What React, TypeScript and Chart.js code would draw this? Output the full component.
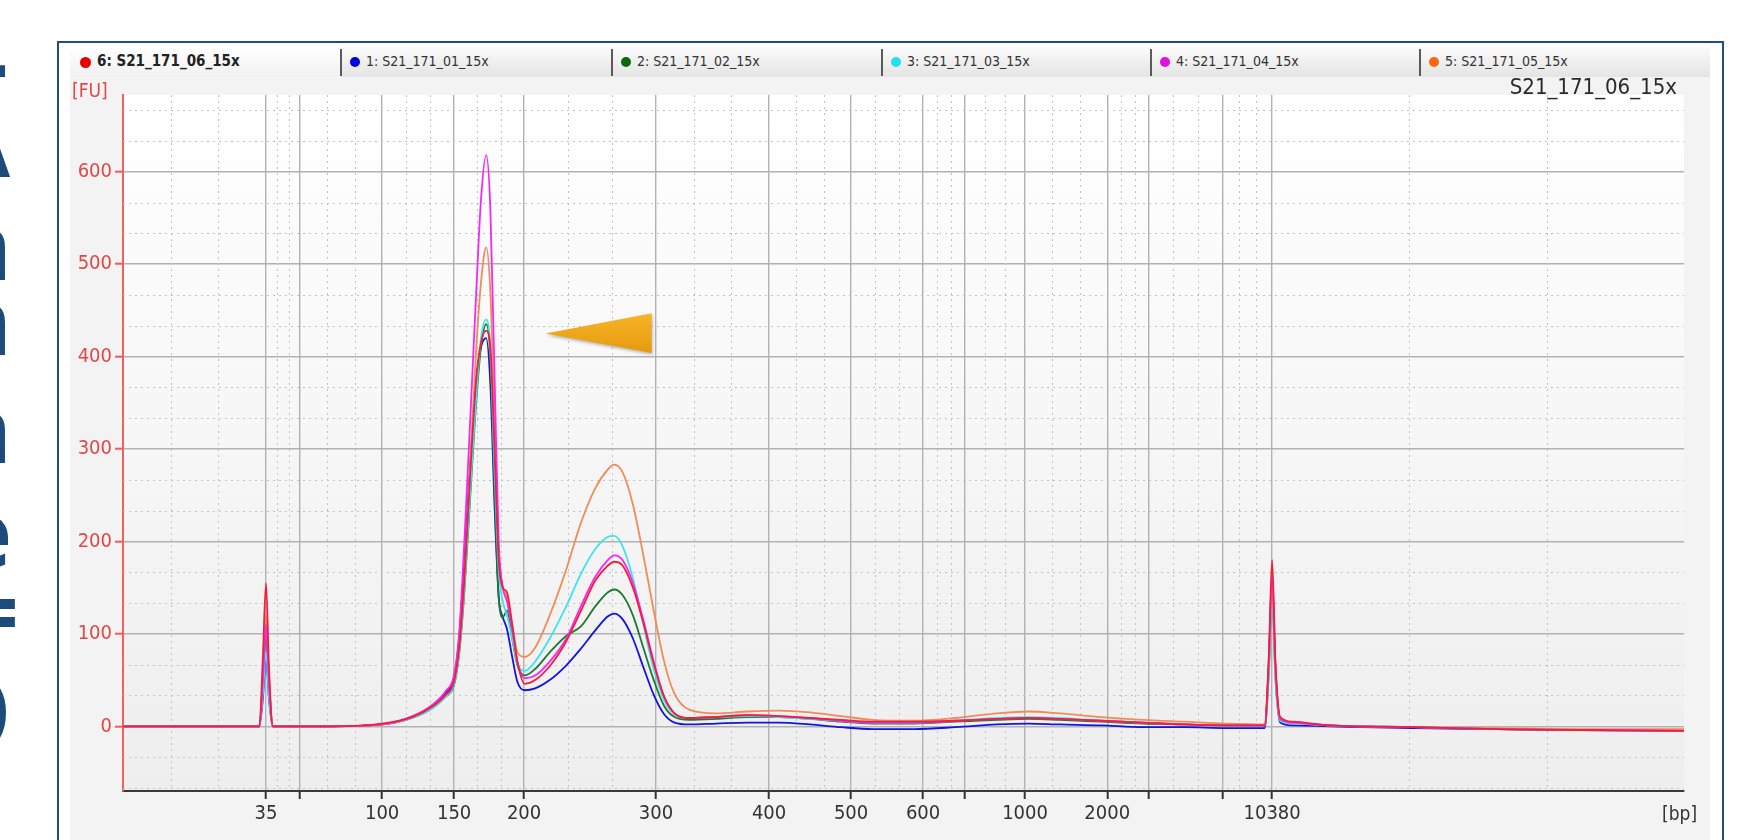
import React, { useEffect, useRef } from "react";
import { Chart, registerables } from "chart.js";

Chart.register(...registerables);

// ---- Ladder (x axis): fragment size and migration time [s] ----
const ladderBp = [35, 50, 100, 150, 200, 300, 400, 500, 600, 700, 1000, 2000, 3000, 7000, 10380];
const ladderTime = [46.87, 48.51, 52.45, 55.91, 59.27, 65.61, 71.04, 74.98, 78.44, 80.46, 83.34, 87.29, 89.26, 92.86, 95.21];
const labeledBp = [35, 100, 150, 200, 300, 400, 500, 600, 1000, 2000, 10380];
const yTickValues = [0, 100, 200, 300, 400, 500, 600];

// ---- Sample traces: time [s] and fluorescence [FU] ----
const timeS = [
  40, 45, 46.55, 46.72, 46.87, 47.02, 47.2, 50, 52.45, 53.9,
  54.9, 55.5, 55.9, 56.15, 56.4, 56.7, 56.95, 57.2, 57.45, 57.65,
  57.85, 58.05, 58.25, 58.45, 58.7, 58.95, 59.3, 59.8, 60.5, 61.3,
  62.0, 62.7, 63.3, 63.6, 64.0, 64.5, 65.0, 65.5, 66.0, 66.5,
  67.2, 68.5, 70.0, 71.5, 73.0, 74.5, 76.0, 78.0, 80.0, 82.0,
  83.5, 85.0, 87.0, 89.0, 91.0, 93.0, 94.85, 95.05, 95.21, 95.37,
  95.6, 96.2, 98, 102, 106, 110, 115,
];
const s1 = [0,0,0,30,75,28,0,0,2,10, 22,36,52,95,180,290,370,410,420,370, 240,140,118,105,75,48,39,41,50,66, 84,104,119,122,116,95,64,34,13,4, 2,3,4,4,2,-1,-3,-3,-1,2, 3,2,1,-1,-1,-2,-2,60,150,55, 4,1,0,-2,-3,-4,-5];
const s2 = [0,0,0,45,100,40,0,0,2,9, 20,32,44,78,145,255,345,410,435,400, 260,140,118,125,95,66,55,62,80,98, 108,130,145,148,142,120,85,50,22,10, 7,8,10,10,8,5,3,3,5,7, 8,7,5,3,2,1,1,65,160,60, 8,4,1,-1,-3,-4,-4];
const s3 = [0,0,0,35,80,30,0,0,2,9, 20,32,45,80,150,260,350,420,440,410, 280,170,135,120,95,68,60,70,95,130, 165,192,205,206,195,160,110,62,28,13, 9,10,11,10,8,6,4,4,6,9, 10,9,6,4,2,1,1,55,140,50, 6,3,1,-1,-3,-4,-5];
const s4 = [0,0,0,50,110,45,0,0,2,11, 24,38,55,100,200,340,460,570,618,560, 380,200,150,135,105,70,52,55,70,95, 130,162,180,185,180,155,115,70,32,14, 9,10,12,11,9,6,4,4,6,8, 9,8,6,4,2,1,1,70,165,65, 8,4,1,-1,-3,-4,-5];
const s5 = [0,0,0,55,120,50,0,0,2,10, 22,34,48,85,160,290,400,480,518,470, 330,190,150,140,110,80,75,85,120,170, 220,258,278,283,275,240,185,125,70,35, 18,14,16,17,15,11,7,6,9,14, 16,14,10,7,5,3,2,65,155,60, 8,4,1,-1,-2,-3,-3];
const s6 = [0,0,0,75,155,60,0,0,3,10, 22,34,48,85,160,280,370,415,428,410, 300,180,150,145,110,70,46,50,65,92, 125,158,174,178,174,150,112,68,32,14, 9,10,12,11,9,7,5,5,6,8, 9,8,6,4,2,1,1,75,180,70, 10,5,1,-1,-3,-4,-5];

const sampleNames = ["1: S21_171_01_15x", "2: S21_171_02_15x", "3: S21_171_03_15x", "4: S21_171_04_15x", "5: S21_171_05_15x", "6: S21_171_06_15x"];
const lineColors = ["#1414e0", "#1e7a30", "#3ce4ee", "#f428f4", "#f08c55", "#f0203c"];
const dotColors = ["#0000dd", "#0a6a0a", "#22e0f0", "#e010e0", "#ff6410", "#e80000"];
const selectedTitle = "S21_171_06_15x";

// Orange arrowhead annotation in data units (time, FU): tip, upper-right, lower-right
const wedgeX = [60.3, 65.4, 65.4];
const wedgeY = [425, 447, 404];

const FONT = "'DejaVu Sans Condensed', 'DejaVu Sans', sans-serif";

const bgPlugin = {
  id: "plotBg",
  beforeDraw(chart: any) {
    const { ctx, chartArea: a } = chart;
    const g = ctx.createLinearGradient(0, a.top, 0, a.bottom);
    g.addColorStop(0, "#ffffff");
    g.addColorStop(1, "#eeeeee");
    ctx.save();
    ctx.fillStyle = g;
    ctx.fillRect(a.left, a.top, a.right - a.left, a.bottom - a.top);
    ctx.restore();
  },
};

const dottedGrid = {
  id: "dottedGrid",
  beforeDatasetsDraw(chart: any) {
    const { ctx, chartArea: a } = chart;
    const xs = chart.scales.x;
    const ys = chart.scales.y;
    ctx.save();
    ctx.setLineDash([2, 4]);
    ctx.strokeStyle = "#c2c2c2";
    ctx.lineWidth = 1;
    const bounds = [xs.min, ...ladderTime, xs.max];
    for (let i = 0; i < bounds.length - 1; i++) {
      for (let k = 1; k <= 2; k++) {
        const v = bounds[i] + ((bounds[i + 1] - bounds[i]) * k) / 3;
        const px = Math.round(xs.getPixelForValue(v)) + 0.5;
        ctx.beginPath();
        ctx.moveTo(px, a.top);
        ctx.lineTo(px, a.bottom);
        ctx.stroke();
      }
    }
    for (let base = -100; base <= 700; base += 100) {
      for (let k = 1; k <= 2; k++) {
        const v = base + (100 * k) / 3;
        if (v <= ys.min || v >= ys.max) continue;
        const py = Math.round(ys.getPixelForValue(v)) + 0.5;
        ctx.beginPath();
        ctx.moveTo(a.left, py);
        ctx.lineTo(a.right, py);
        ctx.stroke();
      }
    }
    ctx.restore();
  },
};

const wedgePlugin = {
  id: "wedge",
  afterDatasetsDraw(chart: any) {
    const { ctx } = chart;
    const xs = chart.scales.x;
    const ys = chart.scales.y;
    const pts = wedgeX.map((x, i) => [xs.getPixelForValue(x), ys.getPixelForValue(wedgeY[i])]);
    const g = ctx.createLinearGradient(0, pts[1][1], 0, pts[2][1]);
    g.addColorStop(0, "#f8b42a");
    g.addColorStop(1, "#e59a0e");
    ctx.save();
    ctx.shadowColor = "rgba(0,0,0,0.25)";
    ctx.shadowBlur = 3;
    ctx.shadowOffsetX = 1;
    ctx.shadowOffsetY = 2;
    ctx.beginPath();
    ctx.moveTo(pts[0][0], pts[0][1]);
    ctx.lineTo(pts[1][0], pts[1][1]);
    ctx.lineTo(pts[2][0], pts[2][1]);
    ctx.closePath();
    ctx.fillStyle = g;
    ctx.fill();
    ctx.restore();
  },
};

function EdgeLetters() {
  const letters = [
    { ch: "T", top: 49, size: 94, right: 7 },
    { ch: "A", top: 94, size: 94, right: 10 },
    { ch: "n", top: 197, size: 94, right: 12 },
    { ch: "n", top: 272, size: 94, right: 12 },
    { ch: "n", top: 380, size: 94, right: 12 },
    { ch: "e", top: 484, size: 94, right: 12 },
    { ch: "=", top: 563, size: 94, right: 19 },
    { ch: "D", top: 649, size: 122, right: 13 },
  ];
  const W = 24;
  return (
    <div style={{ position: "absolute", left: 0, top: 0, width: W, height: 840, overflow: "hidden" }}>
      {letters.map((l, i) => (
        <span
          key={i}
          style={{
            position: "absolute",
            top: l.top,
            right: W - l.right,
            fontFamily: "'Open Sans', sans-serif",
            fontWeight: 700,
            fontSize: l.size,
            lineHeight: 1,
            color: "#1d4b7b",
            whiteSpace: "nowrap",
          }}
        >
          {l.ch}
        </span>
      ))}
    </div>
  );
}

function Legend() {
  const seps = [340, 611, 881, 1150, 1419];
  const order = [0, 1, 2, 3, 4];
  return (
    <div
      style={{
        position: "absolute",
        left: 70,
        top: 47,
        width: 1640,
        height: 30,
        background: "linear-gradient(#fbfbfb, #e4e4e4)",
      }}
    >
      <div
        style={{
          position: "absolute",
          left: 0,
          top: 0,
          width: 270,
          height: 30,
          background: "linear-gradient(#ffffff, #f0f0f0)",
        }}
      />
      <div style={{ position: "absolute", left: 10, top: 10, width: 11, height: 11, borderRadius: 6, background: dotColors[5] }} />
      <div
        style={{
          position: "absolute",
          left: 27,
          top: 5,
          fontFamily: FONT,
          fontWeight: 700,
          fontSize: 15,
          color: "#222",
          whiteSpace: "nowrap",
        }}
      >
        {sampleNames[5]}
      </div>
      {order.map((k, i) => (
        <React.Fragment key={k}>
          <div style={{ position: "absolute", left: seps[i] - 70, top: 2, width: 2, height: 27, background: "#5a5a5a" }} />
          <div
            style={{
              position: "absolute",
              left: seps[i] - 70 + 10,
              top: 10,
              width: 10,
              height: 10,
              borderRadius: 5,
              background: dotColors[k],
            }}
          />
          <div
            style={{
              position: "absolute",
              left: seps[i] - 70 + 26,
              top: 6,
              fontFamily: FONT,
              fontSize: 14,
              color: "#333",
              whiteSpace: "nowrap",
            }}
          >
            {sampleNames[k]}
          </div>
        </React.Fragment>
      ))}
    </div>
  );
}

export default function App() {
  const canvasRef = useRef<HTMLCanvasElement | null>(null);

  useEffect(() => {
    if (!canvasRef.current) return;
    const seriesValues = [s1, s2, s3, s4, s5, s6];
    const drawOrder = [5, 3, 4, 2, 1, 0];
    const datasets = drawOrder.map((k) => ({
      label: sampleNames[k],
      data: timeS.map((t, i) => ({ x: t, y: seriesValues[k][i] })),
      borderColor: lineColors[k],
      borderWidth: 1.8,
      pointRadius: 0,
      fill: false,
      cubicInterpolationMode: "monotone" as const,
    }));

    const chart = new Chart(canvasRef.current, {
      type: "line",
      data: { datasets },
      options: {
        animation: false,
        responsive: false,
        maintainAspectRatio: false,
        layout: { padding: { left: 0, right: 26, top: 10, bottom: 0 } },
        plugins: { legend: { display: false }, tooltip: { enabled: false } },
        scales: {
          x: {
            type: "linear",
            min: 40,
            max: 115,
            afterBuildTicks: (scale: any) => {
              scale.ticks = ladderTime.map((v) => ({ value: v }));
            },
            afterFit: (scale: any) => {
              scale.height = 49;
            },
            ticks: {
              autoSkip: false,
              maxRotation: 0,
              padding: 3,
              color: "#333333",
              font: { family: FONT, size: 20 },
              callback: (_v: any, index: number) =>
                labeledBp.includes(ladderBp[index]) ? String(ladderBp[index]) : "",
            },
            grid: {
              color: "#b2b2b2",
              lineWidth: 1.4,
              tickColor: "#333333",
              tickLength: 8,
              tickWidth: 2,
            },
            border: { color: "#3a3a3a", width: 2 },
          },
          y: {
            type: "linear",
            min: -70,
            max: 683,
            afterBuildTicks: (scale: any) => {
              scale.ticks = yTickValues.map((v) => ({ value: v }));
            },
            afterFit: (scale: any) => {
              scale.width = 53;
            },
            ticks: {
              padding: 3,
              color: "#e04848",
              font: { family: FONT, size: 20 },
            },
            grid: {
              color: "#b2b2b2",
              lineWidth: 1.4,
              tickColor: "#ef5a5a",
              tickLength: 8,
              tickWidth: 2,
            },
            border: { color: "#f06060", width: 2 },
          },
        },
      },
      plugins: [bgPlugin, dottedGrid, wedgePlugin],
    });
    return () => chart.destroy();
  }, []);

  return (
    <div style={{ position: "absolute", left: 0, top: 0, width: 1748, height: 840, overflow: "hidden", background: "#ffffff" }}>
      <EdgeLetters />
      <div
        style={{
          position: "absolute",
          left: 57,
          top: 41,
          width: 1663,
          height: 900,
          border: "2px solid #1f4f7f",
          background: "#ffffff",
        }}
      />
      <div style={{ position: "absolute", left: 70, top: 77, width: 1640, height: 770, background: "#f3f3f3" }} />
      <Legend />
      <canvas
        ref={canvasRef}
        width={1640}
        height={760}
        style={{ position: "absolute", left: 70, top: 80, width: 1640, height: 760 }}
      />
      <div style={{ position: "absolute", left: 72, top: 79, fontFamily: FONT, fontSize: 19, color: "#e04848" }}>[FU]</div>
      <div
        style={{
          position: "absolute",
          right: 1748 - 1677,
          top: 74,
          fontFamily: FONT,
          fontSize: 22,
          color: "#2a2a2a",
          whiteSpace: "nowrap",
        }}
      >
        {selectedTitle}
      </div>
      <div style={{ position: "absolute", left: 1662, top: 802, fontFamily: FONT, fontSize: 19, color: "#333333" }}>[bp]</div>
    </div>
  );
}
